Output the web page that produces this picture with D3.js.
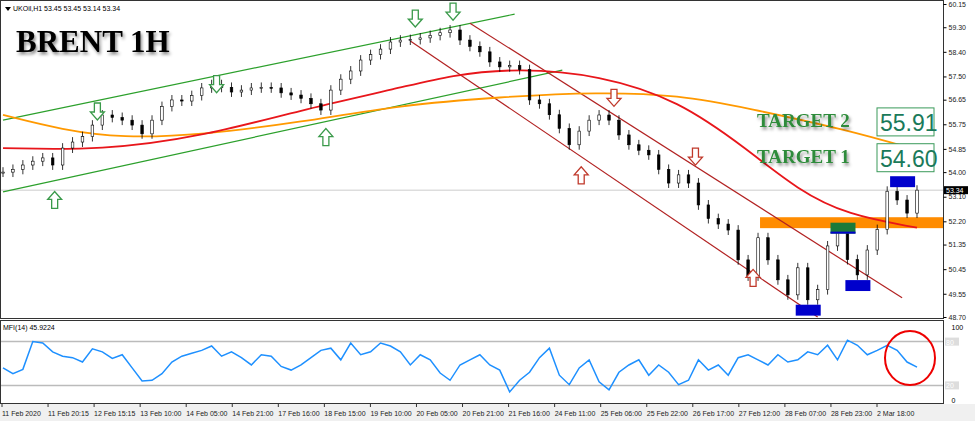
<!DOCTYPE html>
<html><head><meta charset="utf-8">
<script src="https://cdn.jsdelivr.net/npm/d3@7"></script>
<style>body{margin:0;background:#fff}svg{display:block}</style>
</head><body>
<svg id="c" width="975" height="421"></svg>
<script>
const closes=[54.0,54.1,54.26,54.4,54.52,54.26,54.88,55.1,55.3,55.72,56.09,56.0,55.9,55.72,55.4,55.9,56.4,56.64,56.6,56.8,57.08,57.2,57.1,56.93,57.0,57.08,57.1,57.08,56.9,56.82,56.7,56.5,56.27,57.0,57.4,57.7,58.1,58.3,58.5,58.76,58.83,58.85,58.91,59.0,59.1,59.2,58.83,58.6,58.4,58.03,57.85,57.9,57.75,56.64,56.5,56.1,55.6,55.0,55.5,55.9,56.09,55.9,55.36,55.0,54.8,54.63,54.1,53.6,53.9,53.6,52.8,52.3,52.1,51.88,50.79,50.2,51.6,50.79,50.06,49.51,50.5,49.33,49.7,51.3,51.88,50.8,50.24,51.15,51.9,53.3,52.98,52.5,53.34];
const mfi=[44,36,42,80,78,66,60,58,52,70,66,57,62,44,26,27,36,52,60,64,68,74,60,66,58,48,62,60,46,41,48,58,68,71,55,78,62,66,78,74,66,48,62,55,37,27,48,55,62,48,41,11,27,38,58,71,34,21,44,55,25,14,38,48,55,34,48,38,21,27,55,41,48,34,58,62,55,48,62,52,55,66,62,75,55,82,75,62,68,75,68,52,45];
const maRed=[[0,54.88],[10,54.8],[20,55.3],[30,56.27],[40,57.08],[45,57.55],[52,57.81],[60,57.55],[68,56.64],[75,54.81],[80,53.35],[85,52.43],[92,51.97]];
const maOrange=[[0,56.09],[6,55.54],[12,55.25],[20,55.36],[30,55.83],[40,56.45],[50,56.75],[60,56.93],[68,56.82],[75,56.34],[85,55.54],[92,54.81]];
const priceTicks=[60.15,59.30,58.40,57.50,56.65,55.75,54.85,54.00,53.10,52.20,51.35,50.45,49.55,48.70];
const timeLabels=["11 Feb 2020","11 Feb 20:15","12 Feb 15:15","13 Feb 10:00","14 Feb 05:00","14 Feb 21:00","17 Feb 16:00","18 Feb 15:00","19 Feb 10:00","20 Feb 05:00","20 Feb 21:00","21 Feb 16:00","24 Feb 11:00","25 Feb 06:00","25 Feb 22:00","26 Feb 17:00","27 Feb 12:00","28 Feb 07:00","28 Feb 23:00","2 Mar 18:00"];
const greenLines=[[[0,55.9],[51.5,59.78]],[[0,53.28],[56.3,57.73]]];
const redLines=[[[41,58.8],[82,48.7]],[[47,59.45],[90.5,49.4]]];
const downArrows=[[9.5,56.2,"g"],[21.5,57.2,"g"],[41.5,59.6,"g"],[45.3,59.85,"g"],[61.5,56.7,"r"],[69.7,54.55,"r"]];
const upArrows=[[5.2,53.0,"g"],[32.5,55.3,"g"],[58.2,53.9,"r"],[75.5,50.15,"r"]];
const boxes=[[81.0,49.15,48.75,"b"],[86.0,50.05,49.65,"b"],[84.5,52.15,51.75,"gr"],[90.5,53.85,53.45,"b"]];
const targets=[["TARGET 2",55.91],["TARGET 1",54.60]];

const svg=d3.select("#c");
const R=943,PT=4,PB=317,MT=327,MB=400;
const x=d3.scaleLinear().domain([0,closes.length-1]).range([3,917]);
const y=d3.scaleLinear().domain([48.70,60.15]).range([PB,PT]);
const ym=d3.scaleLinear().domain([0,100]).range([MB,MT]);
const xt=d3.scalePoint().domain(timeLabels).range([2,877]);

svg.append("rect").attr("x",0).attr("y",404).attr("width",975).attr("height",17).attr("fill","#f0f0f0");
svg.append("rect").attr("x",0.5).attr("y",0.5).attr("width",R).attr("height",318).attr("fill","none").attr("stroke","#333");
svg.append("rect").attr("x",0.5).attr("y",320.5).attr("width",R).attr("height",83).attr("fill","none").attr("stroke","#333");
const ax=svg.append("g").attr("transform",`translate(${R+0.5},0)`).call(d3.axisRight(y).tickValues(priceTicks).tickFormat(d3.format(".2f")).tickSize(3));
ax.select(".domain").remove();
ax.selectAll("text").attr("font-family","Liberation Sans").attr("font-size",7).attr("fill","#222").attr("x",5);
const am=svg.append("g").attr("transform",`translate(${R+0.5},0)`).call(d3.axisRight(ym).tickValues([100,0]).tickSize(0));
am.select(".domain").remove();am.selectAll("text").attr("font-family","Liberation Sans").attr("font-size",7).attr("x",8);
[80,20].forEach(v=>{svg.append("line").attr("x1",1).attr("x2",R).attr("y1",ym(v)).attr("y2",ym(v)).attr("stroke","#bbb").attr("stroke-width",1.5);
 svg.append("rect").attr("x",R+2).attr("y",ym(v)-4).attr("width",14).attr("height",8).attr("fill","#ddd");
 svg.append("text").attr("x",R+3).attr("y",ym(v)+3).attr("font-size",7).attr("fill","#fff").attr("font-family","Liberation Sans").text(v);});
const bx=svg.append("g").attr("transform","translate(0,404)");
timeLabels.forEach(t=>{bx.append("line").attr("x1",xt(t)).attr("x2",xt(t)).attr("y1",0).attr("y2",3).attr("stroke","#333");
 bx.append("text").attr("x",xt(t)).attr("y",12).attr("font-size",7).attr("font-family","Liberation Sans").attr("fill","#222").text(t);});
svg.append("line").attr("x1",1).attr("x2",R).attr("y1",y(53.34)).attr("y2",y(53.34)).attr("stroke","#ccc");
svg.append("rect").attr("x",R+1).attr("y",y(53.34)-4).attr("width",24).attr("height",8).attr("fill","#000");
svg.append("text").attr("x",R+3).attr("y",y(53.34)+3).attr("font-size",7).attr("fill","#fff").attr("font-family","Liberation Sans").text("53.34");
svg.append("rect").attr("x",x(76.2)).attr("y",y(52.35)).attr("width",R-x(76.2)).attr("height",y(51.95)-y(52.35)).attr("fill","#ff8c00");
const ln=d3.line().x(d=>x(d[0])).y(d=>y(d[1]));
greenLines.forEach(l=>svg.append("path").attr("d",ln(l)).attr("stroke","#2ca02c").attr("stroke-width",1.2).attr("fill","none"));
redLines.forEach(l=>svg.append("path").attr("d",ln(l)).attr("stroke","#b22222").attr("stroke-width",1.2).attr("fill","none"));
const cl=d3.line().curve(d3.curveBasis).x(d=>x(d[0])).y(d=>y(d[1]));
svg.append("path").attr("d",cl(maOrange)).attr("stroke","#ff9900").attr("stroke-width",1.8).attr("fill","none");
svg.append("path").attr("d",cl(maRed)).attr("stroke","#e8161b").attr("stroke-width",1.8).attr("fill","none");
closes.forEach((c,i)=>{const o=i?closes[i-1]:c;const hi=Math.max(o,c)+0.18,lo=Math.min(o,c)-0.18;
 svg.append("line").attr("x1",x(i)).attr("x2",x(i)).attr("y1",y(hi)).attr("y2",y(lo)).attr("stroke","#000").attr("stroke-width",0.8);
 svg.append("rect").attr("x",x(i)-1.3).attr("y",y(Math.max(o,c))).attr("width",2.6).attr("height",Math.max(1,Math.abs(y(o)-y(c)))).attr("fill",c>=o?"#fff":"#000").attr("stroke","#000").attr("stroke-width",0.6);});
boxes.forEach(b=>{svg.append("rect").attr("x",x(b[0])-12).attr("y",y(b[1])).attr("width",25).attr("height",y(b[2])-y(b[1])).attr("fill",b[3]=="b"?"#0000cc":"#1a7a3a");
 if(b[3]=="gr")svg.append("rect").attr("x",x(b[0])-12).attr("y",y(b[2])-2).attr("width",25).attr("height",2).attr("fill","#0000cc");});
function arrow(cx,cy,down,col){const s=down?1:-1;const p=[[-3,-9],[3,-9],[3,0],[7,0],[0,8],[-7,0],[-3,0]].map(q=>[cx+q[0],cy+q[1]*s]);
 svg.append("polygon").attr("points",p.map(q=>q.join(",")).join(" ")).attr("fill","#fff").attr("stroke",col=="g"?"#3a9a4a":"#c0392b").attr("stroke-width",1.3);}
downArrows.forEach(a=>arrow(x(a[0]),y(a[1]),true,a[2]));
upArrows.forEach(a=>arrow(x(a[0]),y(a[1]),false,a[2]));
svg.append("path").attr("d","M5,7 L11,7 L8,11Z").attr("fill","#000");
svg.append("text").attr("x",13).attr("y",11).attr("font-size",7).attr("font-family","Liberation Sans").text("UKOil,H1  53.45 53.45 53.14 53.34");
const defs=svg.append("defs");
defs.append("filter").attr("id","sh").html('<feDropShadow dx="1.5" dy="2.5" stdDeviation="1.5" flood-color="#000" flood-opacity="0.45"/>');
svg.append("text").attr("x",16).attr("y",52).attr("font-size",31).attr("font-weight","bold").attr("font-family","Liberation Serif").attr("filter","url(#sh)").text("BRENT 1H");
targets.forEach(t=>{const yy=y(t[1]);
 svg.append("text").attr("x",757).attr("y",yy+7).attr("font-size",19).attr("font-weight","bold").attr("font-family","Liberation Serif").attr("fill","#2e8b3a").attr("filter","url(#sh)").text(t[0]);
 svg.append("rect").attr("x",877).attr("y",yy-12).attr("width",57).attr("height",28).attr("fill","#fff").attr("stroke","#3a9a5a");
 svg.append("text").attr("x",880).attr("y",yy+11).attr("font-size",23).attr("font-family","Liberation Sans").attr("fill","#1a7a5a").text(t[1].toFixed(2));});
svg.append("text").attr("x",3).attr("y",330).attr("font-size",7).attr("font-family","Liberation Sans").text("MFI(14) 45.9224");
svg.append("path").attr("d",d3.line().x((d,i)=>x(i)).y(d=>ym(d))(mfi)).attr("stroke","#1e90ff").attr("stroke-width",1.5).attr("fill","none");
svg.append("ellipse").attr("cx",910).attr("cy",358).attr("rx",25).attr("ry",27).attr("fill","none").attr("stroke","#e00").attr("stroke-width",2);
</script></body></html>
